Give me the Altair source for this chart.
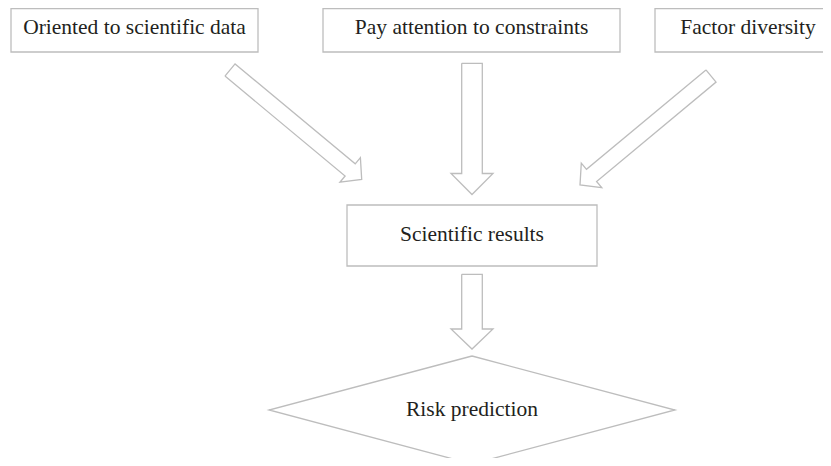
import math
import altair as alt
import pandas as pd

# ---- content ----
box_labels = ["Oriented to scientific data", "Pay attention to constraints",
              "Factor diversity", "Scientific results"]
box_left = [11, 323, 655, 347]
box_right = [258, 620, 845, 597]
box_top = [8.6, 8.6, 8.6, 205]
box_bottom = [52, 52, 52, 266]
label_x = [134.5, 471.5, 748, 472]
label_y = [34, 34, 34, 241]

decision_label = "Risk prediction"
diamond_cx = 472
diamond_cy = 410
diamond_halfw = 203
diamond_halfh = 54
decision_label_y = 416

# block arrows: tail centre, tip, shaft half width, head half width, head length
arrow_tail_x = [230, 472, 711, 472]
arrow_tail_y = [70, 63.3, 76, 274.3]
arrow_tip_x = [361.7, 472, 580, 472]
arrow_tip_y = [179.5, 194.5, 185, 349]
arrow_shaft_hw = [7.9, 10.3, 7.9, 10.3]
arrow_head_hw = [16, 21, 16, 21]
arrow_head_len = [15, 21, 15, 20]

LINE = "#bdbdbd"
TEXT = "#231f20"
FONT = "Liberation Serif"

# ---- build outline polygons ----
rows = []
for i in range(len(arrow_tail_x)):
    tx, ty = arrow_tail_x[i], arrow_tail_y[i]
    hx, hy = arrow_tip_x[i], arrow_tip_y[i]
    L = math.hypot(hx - tx, hy - ty)
    ux, uy = (hx - tx) / L, (hy - ty) / L
    nx, ny = -uy, ux
    bx, by = hx - ux * arrow_head_len[i], hy - uy * arrow_head_len[i]
    sw, hw = arrow_shaft_hw[i], arrow_head_hw[i]
    pts = [
        (tx + nx * sw, ty + ny * sw),
        (bx + nx * sw, by + ny * sw),
        (bx + nx * hw, by + ny * hw),
        (hx, hy),
        (bx - nx * hw, by - ny * hw),
        (bx - nx * sw, by - ny * sw),
        (tx - nx * sw, ty - ny * sw),
    ]
    pts.append(pts[0])
    for k, (px, py) in enumerate(pts):
        rows.append({"shape": f"arrow{i}", "k": k, "x": px, "y": py})

dpts = [
    (diamond_cx, diamond_cy - diamond_halfh),
    (diamond_cx + diamond_halfw, diamond_cy),
    (diamond_cx, diamond_cy + diamond_halfh),
    (diamond_cx - diamond_halfw, diamond_cy),
]
dpts.append(dpts[0])
for k, (px, py) in enumerate(dpts):
    rows.append({"shape": "diamond", "k": k, "x": px, "y": py})

outline_df = pd.DataFrame(rows)
box_df = pd.DataFrame({"label": box_labels, "x0": box_left, "x1": box_right,
                       "y0": box_top, "y1": box_bottom})
text_df = pd.DataFrame({"label": box_labels + [decision_label],
                        "lx": label_x + [diamond_cx],
                        "ly": label_y + [decision_label_y]})

W, H = 815, 450
xs = alt.Scale(domain=[8, 8 + W])
ys = alt.Scale(domain=[8, 8 + H], reverse=True)

outlines = alt.Chart(outline_df).mark_line(
    color=LINE, strokeWidth=1.3, strokeJoin="miter"
).encode(
    x=alt.X("x:Q", scale=xs, axis=None),
    y=alt.Y("y:Q", scale=ys, axis=None),
    detail="shape:N",
    order="k:Q",
)

boxes = alt.Chart(box_df).mark_rect(
    fill="white", fillOpacity=0, stroke=LINE, strokeWidth=1.3
).encode(
    x=alt.X("x0:Q", scale=xs, axis=None),
    x2="x1:Q",
    y=alt.Y("y0:Q", scale=ys, axis=None),
    y2="y1:Q",
)

texts = alt.Chart(text_df).mark_text(
    font=FONT, fontSize=21.5, color=TEXT, align="center", baseline="alphabetic"
).encode(
    x=alt.X("lx:Q", scale=xs, axis=None),
    y=alt.Y("ly:Q", scale=ys, axis=None),
    text="label:N",
)

chart = alt.layer(outlines, boxes, texts).properties(
    width=W, height=H, padding=0,
    autosize=alt.AutoSizeParams(type="none"),
    background="white",
).configure_view(stroke=None)

chart.save("out.html", embed_options={"renderer": "svg", "actions": False})
